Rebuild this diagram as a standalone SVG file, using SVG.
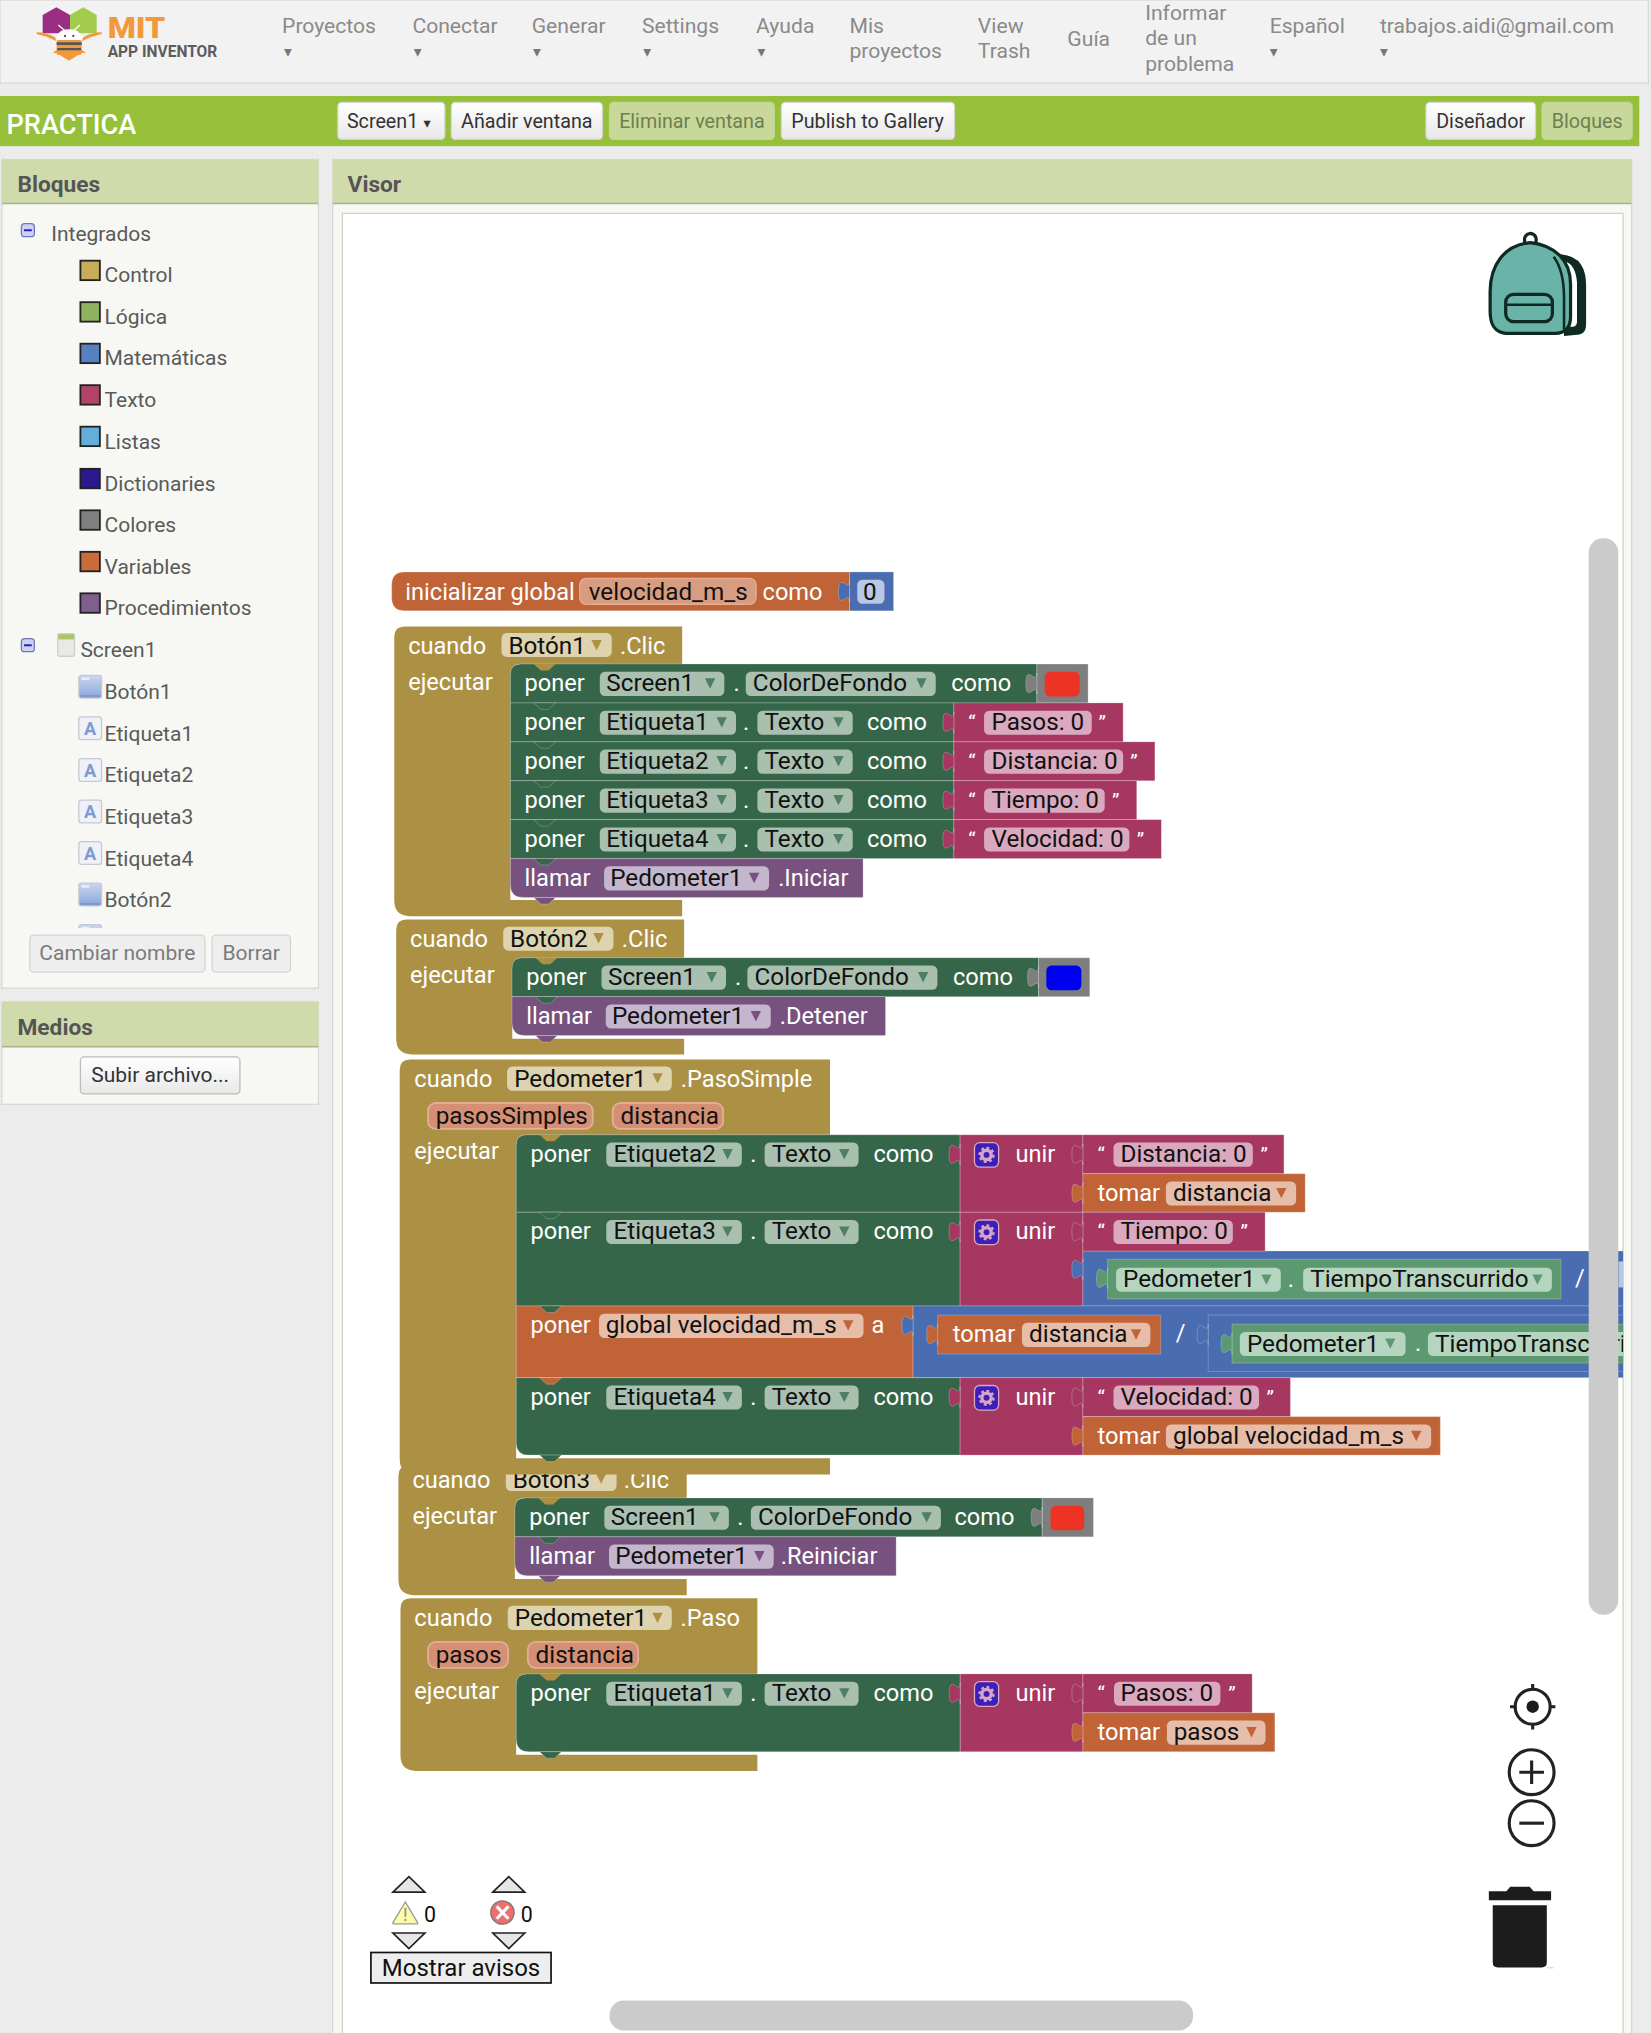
<svg xmlns="http://www.w3.org/2000/svg" width="1651" height="2033" viewBox="0 0 1651 2033">
<defs>
<style>
text{font-family:Roboto,"Liberation Sans",sans-serif}
.m text,text.m{font-size:16.3px;fill:#8a8a8a}
.ar{font-family:"DejaVu Sans",sans-serif!important;font-size:12px!important;fill:#777!important}
.btn{fill:#f5f5f5;stroke:#d4d4d4;stroke-width:1}
.bt{font-size:15.2px;fill:#333;text-anchor:middle}
.off{fill:#c8d89b;stroke:#c4d496}
.oft{font-size:15.2px;fill:#6f7f4e;text-anchor:middle}
.hd{fill:#cfdbab}
.body{fill:#f7f8f3}
.ht{font-size:17.5px;font-weight:700;fill:#555}
.it{font-size:16.2px;fill:#5a5a5a;transform:translate(-.4px,.6px)}
.sw{stroke:#222;stroke-width:1.4}
.b text{font-size:18.2px;fill:#fff}
.b text.k{font-size:18.7px;fill:#111}
.b text.q{font-size:16px}
.gr{fill:#36664a}.pk{fill:#a63760}.or{fill:#c06438}.pu{fill:#77527f}.bl{fill:#4a6cb0}.gy{fill:#7e7e7e}.ct{fill:#ac9145}.lg{fill:#5c9970}
.gr,.pk,.or,.pu,.bl,.gy,.lg{stroke:rgba(255,255,255,.25);stroke-width:.7}
.fg{fill:#a9c0b1}.fc{fill:#ddd3af}.fp{fill:#c3b6cd}.fo{fill:#e5bda9}.fl{fill:#b6d5c0}.ft{fill:#dba9bf}.fb{fill:#b9c8e4}
.pm{fill:#d58f74;stroke:#e5ad94;stroke-width:1.4}
.ag{fill:#4f7f62}.ac{fill:#ac9145}.ap{fill:#77527f}.ao{fill:#c06438}.al{fill:#5c9970}
.ic{fill:none;stroke:#222;stroke-width:2.4}
.tr{fill:#e6e6e6;stroke:#222;stroke-width:1.3}
</style>
<pattern id="tex" width="4" height="4" patternUnits="userSpaceOnUse"><rect width="4" height="4" fill="#ededed"/><rect width="1" height="1" fill="#e0e0e0"/><rect x="2" y="2" width="1" height="1" fill="#e3e3e3"/></pattern>
<linearGradient id="wb" x1="0" y1="0" x2="0" y2="1"><stop offset="0" stop-color="#ffffff"/><stop offset="1" stop-color="#e8e8e8"/></linearGradient>
<linearGradient id="bi" x1="0" y1="0" x2="0" y2="1"><stop offset="0" stop-color="#c9d6ef"/><stop offset=".85" stop-color="#93aedd"/><stop offset=".86" stop-color="#7f99cc"/><stop offset="1" stop-color="#7f99cc"/></linearGradient>
<path id="t" d="M0,0h8l-4,8z"/>
<path id="v" d="M0,0l5.500,5h6l5.500,-5z"/>
<path id="tab" d="M0,0c0,10 -8.500,-8 -8.500,8s8.500,-2 8.500,8z"/>
<g id="gear"><rect x="0" y="0" width="18.600" height="19" rx="4" fill="#3c1fb8" stroke="#dba9bf" stroke-width="1"/><circle cx="9.300" cy="9.500" r="3.600" fill="none" stroke="#d6a6c4" stroke-width="2.600"/><circle cx="9.300" cy="9.500" r="5.400" fill="none" stroke="#d6a6c4" stroke-width="1.800" stroke-dasharray="2.200 2"/></g>
<g id="bicon"><rect width="17.500" height="17.500" rx="2" fill="url(#bi)" stroke="#c4c9d4"/><rect x="2" y="1.500" width="6" height="2" fill="#e8eefa"/></g>
<g id="aicon"><rect width="17.500" height="17.500" rx="2" fill="#eef1f8" stroke="#c4c9d4"/><text x="8.700" y="14" font-size="14" font-weight="700" fill="#7f9ad0" text-anchor="middle">A</text></g>
<clipPath id="cv"><rect x="0" y="0" width="1251.500" height="1568"/></clipPath>
<clipPath id="ct"><rect x="0" y="158" width="246" height="557.500"/></clipPath>
</defs>
<rect width="1651" height="2033" fill="url(#tex)"/>
<g transform="scale(1.2969)">

<g id="topbar">
<rect x="0" y="0" width="1271" height="64" fill="#f2f2f2" stroke="#d8d8d8"/>
<g id="logo">
<g transform="translate(23.130,0) scale(.25703)">
<path d="M79,22L120,45V100H38V45z" fill="#9b2d83"/>
<path d="M160,22L200,45V100H120V45z" fill="#a3cc4f"/>
<path d="M85,75L105,92M150,75L130,92" stroke="#fff" stroke-width="4" fill="none"/>
<path d="M68,158l15,-10h70l15,10l-15,2l-36,22l-36,-22z" fill="#f29a3b"/>
<path d="M20,97q30,0 55,15l5,12q-30,-16 -60,-22zM215,97q-30,0 -55,15l-5,12q30,-16 60,-22z" fill="#f29a3b"/>
<path d="M80,120q0,-32 37,-32q38,0 38,32z" fill="#fff"/>
<circle cx="105" cy="108" r="3.500" fill="#555"/><circle cx="130" cy="108" r="3.500" fill="#555"/>
<rect x="80" y="120" width="75" height="45" rx="6" fill="#f29a3b"/>
<path d="M80,127h75v8h-75zM82,144h71v7h-71z" fill="#555"/>
</g>
<text x="83" y="29" font-size="23" font-weight="900" fill="#f29a3b" textLength="44.500" lengthAdjust="spacingAndGlyphs">MIT</text>
<text x="83" y="44.200" font-size="12.500" font-weight="700" fill="#5c5c5c" textLength="84.500" lengthAdjust="spacingAndGlyphs">APP INVENTOR</text>
</g>
<g class="m">
<text x="217.500" y="25.700">Proyectos</text><text class="ar" x="219" y="44">▾</text>
<text x="318" y="25.700">Conectar</text><text class="ar" x="319" y="44">▾</text>
<text x="410" y="25.700">Generar</text><text class="ar" x="411" y="44">▾</text>
<text x="495" y="25.700">Settings</text><text class="ar" x="496" y="44">▾</text>
<text x="583" y="25.700">Ayuda</text><text class="ar" x="584" y="44">▾</text>
<text x="655" y="25.700">Mis</text><text x="655" y="45">proyectos</text>
<text x="754" y="25.700">View</text><text x="754" y="45">Trash</text>
<text x="823" y="35.500">Guía</text>
<text x="883" y="15.400">Informar</text><text x="883" y="35">de un</text><text x="883" y="54.500">problema</text>
<text x="979" y="25.700">Español</text><text class="ar" x="979" y="44">▾</text>
<text x="1064" y="25.700">trabajos.aidi@gmail.com</text><text class="ar" x="1064" y="44">▾</text>
</g>
</g>

<g id="toolbar">
<rect x="0" y="74" width="1264" height="38.700" fill="#97c03a"/>
<text x="5" y="103" font-size="21" font-weight="500" fill="#fff">PRACTICA</text>
<rect class="btn" x="260.500" y="79" width="82.500" height="28.500" rx="3" style="fill:url(#wb)"/><text class="bt" x="295" y="99">Screen1</text><text class="ar" x="326.500" y="98.500" style="fill:#333!important;font-size:11px!important">▾</text>
<rect class="btn" x="348" y="79" width="116.500" height="28.500" rx="3" style="fill:url(#wb)"/><text class="bt" x="406.200" y="99">Añadir ventana</text>
<rect class="off" x="470" y="79" width="127" height="28.500" rx="3"/><text class="oft" x="533.500" y="99">Eliminar ventana</text>
<rect class="btn" x="602.500" y="79" width="133.500" height="28.500" rx="3" style="fill:url(#wb)"/><text class="bt" x="669" y="99">Publish to Gallery</text>
<rect class="btn" x="1099.500" y="79" width="84.500" height="28.500" rx="3" style="fill:url(#wb)"/><text class="bt" x="1141.700" y="99">Diseñador</text>
<rect class="off" x="1189" y="79" width="69.500" height="28.500" rx="3"/><text class="oft" x="1223.800" y="99">Bloques</text>
</g>

<g id="panel-bloques">
<rect class="body" x="1.500" y="123" width="244" height="639" stroke="#d8d8d8"/>
<rect class="hd" x="1.500" y="123" width="244" height="34"/><rect x="1.500" y="156.300" width="244" height="1.200" fill="#aab28e"/>
<text class="ht" x="13.500" y="148.200">Bloques</text>
<rect x="16.500" y="172.500" width="10" height="10" rx="2.500" fill="#cdd2f2" stroke="#7076bb"/><rect x="18.500" y="176.800" width="6" height="1.500" fill="#2222bb"/>
<text class="it" x="39.900" y="185">Integrados</text>
<rect class="sw" x="62" y="201" width="15" height="15" fill="#c7ad5a"/><text class="it" x="81" y="217">Control</text>
<rect class="sw" x="62" y="233" width="15" height="15" fill="#8fb35c"/><text class="it" x="81" y="249">Lógica</text>
<rect class="sw" x="62" y="265" width="15" height="15" fill="#5680bf"/><text class="it" x="81" y="281">Matemáticas</text>
<rect class="sw" x="62" y="297" width="15" height="15" fill="#b34468"/><text class="it" x="81" y="313.500">Texto</text>
<rect class="sw" x="62" y="329" width="15" height="15" fill="#63afd9"/><text class="it" x="81" y="345.500">Listas</text>
<rect class="sw" x="62" y="361.500" width="15" height="15" fill="#2a1a8e"/><text class="it" x="81" y="378">Dictionaries</text>
<rect class="sw" x="62" y="393.500" width="15" height="15" fill="#808080"/><text class="it" x="81" y="410">Colores</text>
<rect class="sw" x="62" y="425.500" width="15" height="15" fill="#cb6b3a"/><text class="it" x="81" y="442">Variables</text>
<rect class="sw" x="62" y="457.500" width="15" height="15" fill="#7e5f8f"/><text class="it" x="81" y="474">Procedimientos</text>
<rect x="16.500" y="492.500" width="10" height="10" rx="2.500" fill="#cdd2f2" stroke="#7076bb"/><rect x="18.500" y="496.800" width="6" height="1.500" fill="#2222bb"/>
<rect x="44.500" y="488.500" width="13" height="17.500" rx="1.500" fill="#e8e8e4" stroke="#cfcfcf"/><rect x="45" y="489" width="12" height="4" fill="#a9c46a"/>
<text class="it" x="62.400" y="506">Screen1</text>
<g clip-path="url(#ct)">
<use href="#bicon" x="60.800" y="520.800"/><text class="it" x="81" y="538.500">Botón1</text>
<use href="#aicon" x="60.800" y="552.800"/><text class="it" x="81" y="570.500">Etiqueta1</text>
<use href="#aicon" x="60.800" y="585"/><text class="it" x="81" y="602.500">Etiqueta2</text>
<use href="#aicon" x="60.800" y="617"/><text class="it" x="81" y="634.500">Etiqueta3</text>
<use href="#aicon" x="60.800" y="649"/><text class="it" x="81" y="667">Etiqueta4</text>
<use href="#bicon" x="60.800" y="681"/><text class="it" x="81" y="699">Botón2</text>
<use href="#bicon" x="60.800" y="713"/>
</g>
<rect class="btn" x="23" y="721" width="135" height="28.500" rx="3" style="fill:#eeeeee"/><text class="bt" x="90.500" y="740.500" style="fill:#7a7a7a;font-size:16.200px">Cambiar nombre</text>
<rect class="btn" x="163.500" y="721" width="60.500" height="28.500" rx="3" style="fill:#eeeeee"/><text class="bt" x="193.700" y="740.500" style="fill:#7a7a7a;font-size:16.200px">Borrar</text>
</g>

<g id="panel-medios">
<rect class="body" x="1.500" y="772.500" width="244" height="79" stroke="#d8d8d8"/>
<rect class="hd" x="1.500" y="772.500" width="244" height="34.500"/><rect x="1.500" y="806.500" width="244" height="1.200" fill="#aab28e"/>
<text class="ht" x="13.500" y="798">Medios</text>
<rect class="btn" x="62" y="815" width="123" height="28.500" rx="3" style="fill:url(#wb);stroke:#bbb"/><text class="bt" x="123.500" y="834.500" style="font-size:16.200px">Subir archivo...</text>
</g>

<g id="visor">
<rect class="body" x="256.500" y="123" width="1001.500" height="1446" stroke="#d8d8d8"/>
<rect class="hd" x="256.500" y="123" width="1001.500" height="34"/><rect x="256.500" y="156.300" width="1001.500" height="1.200" fill="#aab28e"/>
<text class="ht" x="268" y="148.200">Visor</text>
<rect x="264" y="164.500" width="987.500" height="1410" fill="#fff" stroke="#cfd3c8"/>
</g>

<g id="mochila">
<path d="M1203,196q12,1 16,8q4,6 4,16v30q0,7 -5,8l-12,1z" fill="#0e2a22"/>
<path d="M1208,202q7,3 8,16v30q0,3 -3,4l-4,0z" fill="#fff"/>
<path d="M1176,188q-2,-7 4,-8q6,1 4,8" fill="none" stroke="#0e2a22" stroke-width="2.500"/>
<path d="M1180,187c-20,2 -31,17 -31,38v15c0,10 3,16 12,17h38c8,0 12,-4 12,-13v-25c0,-18 -12,-30 -31,-32z" fill="#6ab3a8" stroke="#0e2a22" stroke-width="2.500"/>
<path d="M1198,198c6,8 8,20 8,32v24" fill="none" stroke="#0e2a22" stroke-width="2"/>
<rect x="1161" y="227" width="36" height="21" rx="6" fill="none" stroke="#0e2a22" stroke-width="2.500"/>
<path d="M1161,235h36" fill="none" stroke="#0e2a22" stroke-width="2"/>
</g>

<g id="bloques" class="b" clip-path="url(#cv)">

<g id="init-global">
<path class="or" d="M312,441H655V471H312q-10,0 -10,-10v-10q0,-10 10,-10z"/>
<rect class="bl" x="655" y="441" width="34" height="30"/>
<use href="#tab" x="655" y="448" class="bl"/>
<text x="312.500" y="462.500">inicializar global</text>
<rect class="fo" x="447" y="446" width="136" height="20" rx="5" style="fill:#d89d80;stroke:#e5ad94"/>
<text class="k" x="454" y="462.500">velocidad_m_s</text>
<text x="588" y="462.500">como</text>
<rect class="fb" x="661" y="447" width="21" height="18.500" rx="4"/>
<text class="k" x="665.500" y="462.500">0</text>
</g>

<g id="cuando-boton1">
<path class="ct" d="M304,491q0,-8 8,-8H526V512H401q-7.500,0 -7.500,8V694H526V706.400H316q-12,0 -12,-12z"/>
<text x="314.700" y="504">cuando</text>
<rect class="fc" x="386.700" y="488" width="85" height="18.500" rx="4"/><text class="k" x="392" y="504">Botón1</text><use href="#t" x="456" y="493.500" class="ac"/>
<text x="478" y="504">.Clic</text>
<text x="314.700" y="532">ejecutar</text>
<g transform="translate(393.500,512)">
<path class="gr" d="M8,0H406V30H0V8q0,-8 8,-8z"/><use href="#v" x="18" class="ct"/>
<rect class="gy" x="406" width="39.500" height="30"/><use href="#tab" x="406" y="7" class="gy"/>
<text x="11" y="21">poner</text><rect class="fg" x="69" y="6" width="96" height="18.600" rx="4"/><text class="k" x="74" y="21">Screen1</text><use href="#t" x="150" y="11" class="ag"/>
<text x="172" y="21">.</text><rect class="fg" x="181.500" y="6" width="146.500" height="18.600" rx="4"/><text class="k" x="187" y="21">ColorDeFondo</text><use href="#t" x="313" y="11" class="ag"/>
<text x="340" y="21">como</text><rect x="412" y="6" width="27" height="19" rx="4" fill="#ed3323"/>
</g>
<g transform="translate(393.500,542)">
<rect class="gr" width="342" height="30"/><use href="#v" x="18" class="gr"/>
<rect class="pk" x="342" width="130.500" height="30"/><use href="#tab" x="342" y="7" class="pk"/>
<text x="11" y="21">poner</text><rect class="fg" x="69" y="6" width="105" height="18.600" rx="4"/><text class="k" x="74" y="21">Etiqueta1</text><use href="#t" x="159" y="11" class="ag"/>
<text x="179.500" y="21">.</text><rect class="fg" x="190.500" y="6" width="73.500" height="18.600" rx="4"/><text class="k" x="196" y="21">Texto</text><use href="#t" x="249" y="11" class="ag"/>
<text x="275" y="21">como</text>
<text class="q" x="353" y="21">“</text><rect class="ft" x="365.300" y="6" width="83" height="18.600" rx="4"/><text class="k" x="371" y="21">Pasos: 0</text><text class="q" x="453.500" y="21">”</text>
</g>
<g transform="translate(393.500,572)">
<rect class="gr" width="342" height="30"/><use href="#v" x="18" class="gr"/>
<rect class="pk" x="342" width="155" height="30"/><use href="#tab" x="342" y="7" class="pk"/>
<text x="11" y="21">poner</text><rect class="fg" x="69" y="6" width="105" height="18.600" rx="4"/><text class="k" x="74" y="21">Etiqueta2</text><use href="#t" x="159" y="11" class="ag"/>
<text x="179.500" y="21">.</text><rect class="fg" x="190.500" y="6" width="73.500" height="18.600" rx="4"/><text class="k" x="196" y="21">Texto</text><use href="#t" x="249" y="11" class="ag"/>
<text x="275" y="21">como</text>
<text class="q" x="353" y="21">“</text><rect class="ft" x="365.300" y="6" width="107.200" height="18.600" rx="4"/><text class="k" x="371" y="21">Distancia: 0</text><text class="q" x="478" y="21">”</text>
</g>
<g transform="translate(393.500,602)">
<rect class="gr" width="342" height="30"/><use href="#v" x="18" class="gr"/>
<rect class="pk" x="342" width="141" height="30"/><use href="#tab" x="342" y="7" class="pk"/>
<text x="11" y="21">poner</text><rect class="fg" x="69" y="6" width="105" height="18.600" rx="4"/><text class="k" x="74" y="21">Etiqueta3</text><use href="#t" x="159" y="11" class="ag"/>
<text x="179.500" y="21">.</text><rect class="fg" x="190.500" y="6" width="73.500" height="18.600" rx="4"/><text class="k" x="196" y="21">Texto</text><use href="#t" x="249" y="11" class="ag"/>
<text x="275" y="21">como</text>
<text class="q" x="353" y="21">“</text><rect class="ft" x="365.300" y="6" width="93" height="18.600" rx="4"/><text class="k" x="371" y="21">Tiempo: 0</text><text class="q" x="464" y="21">”</text>
</g>
<g transform="translate(393.500,632)">
<rect class="gr" width="342" height="30"/><use href="#v" x="18" class="gr"/>
<rect class="pk" x="342" width="160" height="30"/><use href="#tab" x="342" y="7" class="pk"/>
<text x="11" y="21">poner</text><rect class="fg" x="69" y="6" width="105" height="18.600" rx="4"/><text class="k" x="74" y="21">Etiqueta4</text><use href="#t" x="159" y="11" class="ag"/>
<text x="179.500" y="21">.</text><rect class="fg" x="190.500" y="6" width="73.500" height="18.600" rx="4"/><text class="k" x="196" y="21">Texto</text><use href="#t" x="249" y="11" class="ag"/>
<text x="275" y="21">como</text>
<text class="q" x="353" y="21">“</text><rect class="ft" x="365.300" y="6" width="112" height="18.600" rx="4"/><text class="k" x="371" y="21">Velocidad: 0</text><text class="q" x="483" y="21">”</text>
</g>
<g transform="translate(393.500,662)">
<path class="pu" d="M0,0H272V30H10q-10,0 -10,-10z"/><use href="#v" x="18" class="gr"/><use href="#v" x="18" y="30" class="pu"/>
<text x="11" y="21">llamar</text><rect class="fp" x="72.300" y="6" width="127.200" height="18.600" rx="4"/><text class="k" x="77" y="21">Pedometer1</text><use href="#t" x="184" y="11" class="ap"/><text x="206.500" y="21">.Iniciar</text>
</g>
</g>

<g id="cuando-boton2">
<path class="ct" d="M305.500,717q0,-8 8,-8H527.500V738.500H402.500q-7.500,0 -7.500,8V801H527.500V813H317.500q-12,0 -12,-12z"/>
<text x="316.200" y="730">cuando</text>
<rect class="fc" x="388" y="714.500" width="85" height="18.500" rx="4"/><text class="k" x="393.300" y="730">Botón2</text><use href="#t" x="457.500" y="719.500" class="ac"/>
<text x="479.500" y="730">.Clic</text>
<text x="316.200" y="758">ejecutar</text>
<g transform="translate(394.800,738.500)">
<path class="gr" d="M8,0H406V30H0V8q0,-8 8,-8z"/><use href="#v" x="18" class="ct"/>
<rect class="gy" x="406" width="39.500" height="30"/><use href="#tab" x="406" y="7" class="gy"/>
<text x="11" y="21">poner</text><rect class="fg" x="69" y="6" width="96" height="18.600" rx="4"/><text class="k" x="74" y="21">Screen1</text><use href="#t" x="150" y="11" class="ag"/>
<text x="172" y="21">.</text><rect class="fg" x="181.500" y="6" width="146.500" height="18.600" rx="4"/><text class="k" x="187" y="21">ColorDeFondo</text><use href="#t" x="313" y="11" class="ag"/>
<text x="340" y="21">como</text><rect x="412" y="6" width="27" height="19" rx="4" fill="#0000f0"/>
</g>
<g transform="translate(394.800,768.500)">
<path class="pu" d="M0,0H288V30H10q-10,0 -10,-10z"/><use href="#v" x="18" class="gr"/><use href="#v" x="18" y="30" class="pu"/>
<text x="11" y="21">llamar</text><rect class="fp" x="72.300" y="6" width="127.200" height="18.600" rx="4"/><text class="k" x="77" y="21">Pedometer1</text><use href="#t" x="184" y="11" class="ap"/><text x="206.500" y="21">.Detener</text>
</g>
</g>

<g id="cuando-boton3">
<path class="ct" d="M307.200,1138q0,-8 8,-8H529.500V1155H404.500q-7.500,0 -7.500,8V1217.600H529.500V1230H319.200q-12,0 -12,-12z"/>
<text x="318" y="1147">cuando</text>
<rect class="fc" x="390" y="1131" width="85.400" height="18.600" rx="4"/><text class="k" x="395.300" y="1147">Botón3</text><use href="#t" x="459.500" y="1136" class="ac"/>
<text x="481" y="1147">.Clic</text>
<text x="318" y="1175">ejecutar</text>
<g transform="translate(397,1155)">
<path class="gr" d="M8,0H406.600V30H0V8q0,-8 8,-8z"/><use href="#v" x="18" class="ct"/>
<rect class="gy" x="406.600" width="39.500" height="30"/><use href="#tab" x="406.600" y="7" class="gy"/>
<text x="11" y="21">poner</text><rect class="fg" x="69" y="6" width="96" height="18.600" rx="4"/><text class="k" x="74" y="21">Screen1</text><use href="#t" x="150" y="11" class="ag"/>
<text x="171.500" y="21">.</text><rect class="fg" x="182" y="6" width="146.500" height="18.600" rx="4"/><text class="k" x="187.500" y="21">ColorDeFondo</text><use href="#t" x="313.500" y="11" class="ag"/>
<text x="339" y="21">como</text><rect x="413" y="6" width="26" height="19" rx="4" fill="#ed3323"/>
</g>
<g transform="translate(397,1185)">
<path class="pu" d="M0,0H294V30H10q-10,0 -10,-10z"/><use href="#v" x="18" class="gr"/><use href="#v" x="18" y="30" class="pu"/>
<text x="11" y="21">llamar</text><rect class="fp" x="72.600" y="6" width="127" height="18.600" rx="4"/><text class="k" x="77.500" y="21">Pedometer1</text><use href="#t" x="184.500" y="11" class="ap"/><text x="205" y="21">.Reiniciar</text>
</g>
</g>

<g id="cuando-pasosimple">
<path class="ct" d="M308.200,825q0,-8 8,-8H640V875H405.500q-7.500,0 -7.500,8V1124.400H640V1137H320.200q-12,0 -12,-12z"/>
<text x="319.500" y="838">cuando</text>
<rect class="fc" x="391" y="822.400" width="127" height="18.600" rx="4"/><text class="k" x="396.500" y="838">Pedometer1</text><use href="#t" x="503" y="827.500" class="ac"/>
<text x="525" y="838">.PasoSimple</text>
<rect class="pm" x="330" y="850.500" width="127" height="20" rx="6"/><text class="k" x="336" y="867">pasosSimples</text>
<rect class="pm" x="472.400" y="850.500" width="85.200" height="20" rx="6"/><text class="k" x="478.500" y="867">distancia</text>
<text x="319.500" y="894">ejecutar</text>
<g transform="translate(398,875)">
<path class="gr" d="M8,0H342.300V59.700H0V8q0,-8 8,-8z"/><use href="#v" x="18" class="ct"/>
<rect class="pk" x="342.300" width="94.700" height="59.700"/><use href="#tab" x="342.300" y="7" class="pk"/>
<rect class="pk" x="437" width="155" height="30"/><use href="#tab" x="437" y="7" class="pk"/>
<rect class="or" x="437" y="30" width="171.400" height="29.700"/><use href="#tab" x="437" y="37" class="or"/>
<text x="11" y="21">poner</text><rect class="fg" x="69.500" y="6" width="104.500" height="18.600" rx="4"/><text class="k" x="75" y="21">Etiqueta2</text><use href="#t" x="159" y="11" class="ag"/>
<text x="180.500" y="21">.</text><rect class="fg" x="191.600" y="6" width="72.400" height="18.600" rx="4"/><text class="k" x="197" y="21">Texto</text><use href="#t" x="249" y="11" class="ag"/>
<text x="275.500" y="21">como</text>
<use href="#gear" x="353.400" y="6"/><text x="385" y="21">unir</text>
<text class="q" x="448.300" y="21">“</text><rect class="ft" x="460.600" y="6" width="107.400" height="18.600" rx="4"/><text class="k" x="466" y="21">Distancia: 0</text><text class="q" x="574" y="21">”</text>
<text x="448.300" y="51">tomar</text><rect class="fo" x="501" y="36" width="100.400" height="18.600" rx="4"/><text class="k" x="506.500" y="51">distancia</text><use href="#t" x="586" y="41" class="ao"/>
</g>
<g transform="translate(398,934.700)">
<rect class="gr" width="342.300" height="72.300"/><use href="#v" x="18" class="gr"/>
<rect class="pk" x="342.300" width="94.700" height="72.300"/><use href="#tab" x="342.300" y="7" class="pk"/>
<rect class="bl" x="437" y="29.900" width="420" height="42.400"/><use href="#tab" x="437" y="36" class="bl"/>
<rect class="pk" x="437" width="140.500" height="29.900"/><use href="#tab" x="437" y="7" class="pk"/>
<text x="11" y="21">poner</text><rect class="fg" x="69.500" y="6" width="104.500" height="18.600" rx="4"/><text class="k" x="75" y="21">Etiqueta3</text><use href="#t" x="159" y="11" class="ag"/>
<text x="180.500" y="21">.</text><rect class="fg" x="191.600" y="6" width="72.400" height="18.600" rx="4"/><text class="k" x="197" y="21">Texto</text><use href="#t" x="249" y="11" class="ag"/>
<text x="275.500" y="21">como</text>
<use href="#gear" x="353.400" y="6"/><text x="385" y="21">unir</text>
<text class="q" x="448.300" y="21">“</text><rect class="ft" x="460.600" y="6" width="92" height="18.600" rx="4"/><text class="k" x="466" y="21">Tiempo: 0</text><text class="q" x="558.500" y="21">”</text>
<rect class="lg" x="456" y="36.300" width="349.600" height="30.600"/><use href="#tab" x="456" y="43" class="lg"/>
<rect class="fl" x="462.600" y="42.800" width="127" height="18.600" rx="4"/><text class="k" x="468" y="58">Pedometer1</text><use href="#t" x="574.500" y="48" class="al"/>
<text x="595" y="58">.</text><rect class="fl" x="606.800" y="42.800" width="191.800" height="18.600" rx="4"/><text class="k" x="612.300" y="58">TiempoTranscurrido</text><use href="#t" x="783.500" y="48" class="al"/>
<text x="816.500" y="57">/</text>
<rect class="fb" x="850" y="38" width="7" height="20"/>
</g>
<g transform="translate(398,1007)">
<rect class="or" width="306" height="55.300"/><use href="#v" x="18" class="gr"/>
<rect class="bl" x="306" width="551" height="55.300"/><use href="#tab" x="306" y="7" class="bl"/>
<text x="11" y="21">poner</text><rect class="fo" x="63.900" y="6" width="203.900" height="18.600" rx="4"/><text class="k" x="69" y="21">global velocidad_m_s</text><use href="#t" x="252" y="11" class="ao"/>
<text x="274" y="21">a</text>
<rect class="or" x="325" y="7" width="172" height="30"/><use href="#tab" x="325" y="14" class="or"/>
<text x="336.600" y="28">tomar</text><rect class="fo" x="390" y="13" width="99" height="18.600" rx="4"/><text class="k" x="395.500" y="28">distancia</text><use href="#t" x="474" y="18" class="ao"/>
<text x="508.500" y="27">/</text>
<rect class="bl" x="533.600" y="7" width="330" height="43.600"/><use href="#tab" x="533.600" y="14" class="bl"/>
<rect class="lg" x="552" y="14" width="310" height="30"/><use href="#tab" x="552" y="21" class="lg"/>
<rect class="fl" x="558" y="20" width="127.800" height="18.600" rx="4"/><text class="k" x="563.500" y="35.500">Pedometer1</text><use href="#t" x="670" y="25" class="al"/>
<text x="693" y="35">.</text><rect class="fl" x="703" y="20" width="192" height="18.600" rx="4"/><text class="k" x="708.500" y="35.500">TiempoTranscurrido</text>
</g>
<g transform="translate(398,1062.300)">
<path class="gr" d="M0,0H342.300V59.700H10q-10,0 -10,-10z"/><use href="#v" x="18" class="or"/><use href="#v" x="18" y="59.700" class="gr"/>
<rect class="pk" x="342.300" width="94.700" height="59.700"/><use href="#tab" x="342.300" y="7" class="pk"/>
<rect class="pk" x="437" width="160" height="30"/><use href="#tab" x="437" y="7" class="pk"/>
<rect class="or" x="437" y="30" width="275.600" height="29.700"/><use href="#tab" x="437" y="37" class="or"/>
<text x="11" y="21">poner</text><rect class="fg" x="69.500" y="6" width="104.500" height="18.600" rx="4"/><text class="k" x="75" y="21">Etiqueta4</text><use href="#t" x="159" y="11" class="ag"/>
<text x="180.500" y="21">.</text><rect class="fg" x="191.600" y="6" width="72.400" height="18.600" rx="4"/><text class="k" x="197" y="21">Texto</text><use href="#t" x="249" y="11" class="ag"/>
<text x="275.500" y="21">como</text>
<use href="#gear" x="353.400" y="6"/><text x="385" y="21">unir</text>
<text class="q" x="448.300" y="21">“</text><rect class="ft" x="460.600" y="6" width="112.200" height="18.600" rx="4"/><text class="k" x="466" y="21">Velocidad: 0</text><text class="q" x="578.500" y="21">”</text>
<text x="448.300" y="51">tomar</text><rect class="fo" x="501" y="36" width="204.500" height="18.600" rx="4"/><text class="k" x="506.500" y="51">global velocidad_m_s</text><use href="#t" x="690" y="41" class="ao"/>
</g>
</g>

<g id="cuando-paso">
<path class="ct" d="M308.800,1240.400q0,-8 8,-8H584V1290.700H405.500q-7.500,0 -7.500,8V1353H584V1365.500H320.800q-12,0 -12,-12z"/>
<text x="319.500" y="1254">cuando</text>
<rect class="fc" x="391.500" y="1238.200" width="126.500" height="18.600" rx="4"/><text class="k" x="397" y="1254">Pedometer1</text><use href="#t" x="503" y="1243.500" class="ac"/>
<text x="524.800" y="1254">.Paso</text>
<rect class="pm" x="330" y="1266" width="61.800" height="20" rx="6"/><text class="k" x="336" y="1282.500">pasos</text>
<rect class="pm" x="407" y="1266" width="85" height="20" rx="6"/><text class="k" x="413" y="1282.500">distancia</text>
<text x="319.500" y="1310">ejecutar</text>
<g transform="translate(398,1290.700)">
<path class="gr" d="M8,0H342.400V60H10q-10,0 -10,-10V8q0,-8 8,-8z"/><use href="#v" x="18" class="ct"/><use href="#v" x="18" y="60" class="gr"/>
<rect class="pk" x="342.400" width="94.600" height="60"/><use href="#tab" x="342.400" y="7" class="pk"/>
<rect class="pk" x="437" width="130.500" height="30"/><use href="#tab" x="437" y="7" class="pk"/>
<rect class="or" x="437" y="30" width="148" height="30"/><use href="#tab" x="437" y="37" class="or"/>
<text x="11" y="21">poner</text><rect class="fg" x="69.500" y="6" width="104.500" height="18.600" rx="4"/><text class="k" x="75" y="21">Etiqueta1</text><use href="#t" x="159" y="11" class="ag"/>
<text x="180.500" y="21">.</text><rect class="fg" x="191.600" y="6" width="72.400" height="18.600" rx="4"/><text class="k" x="197" y="21">Texto</text><use href="#t" x="249" y="11" class="ag"/>
<text x="275.500" y="21">como</text>
<use href="#gear" x="353.400" y="6"/><text x="385" y="21">unir</text>
<text class="q" x="448.300" y="21">“</text><rect class="ft" x="461" y="6" width="82" height="18.600" rx="4"/><text class="k" x="466" y="21">Pasos: 0</text><text class="q" x="549" y="21">”</text>
<text x="448.300" y="51">tomar</text><rect class="fo" x="501.800" y="36" width="76" height="18.600" rx="4"/><text class="k" x="507" y="51">pasos</text><use href="#t" x="563" y="41" class="ao"/>
</g>
</g>
</g>

<g id="avisos">
<path class="tr" d="M303,1459l12.300,-12 12.300,12z"/><path class="tr" d="M380,1459l12.300,-12 12.300,12z"/>
<path d="M312.500,1466.500l9.500,16q.5,1 -1,1h-17q-1.500,0 -1,-1z" fill="#fdfda8" stroke="#999" stroke-width="1"/><rect x="311.800" y="1471" width="1.600" height="7" fill="#999"/><rect x="311.800" y="1479.500" width="1.600" height="1.800" fill="#999"/>
<text x="327" y="1482" font-size="16.500" fill="#111">0</text>
<circle cx="387.400" cy="1474.700" r="9" fill="#ee6f6f" stroke="#777" stroke-width="1"/><path d="M383,1470l9,9.500m0,-9.500l-9,9.500" stroke="#fff" stroke-width="2.400" fill="none"/>
<text x="401.600" y="1482" font-size="16.500" fill="#111">0</text>
<path class="tr" d="M303,1490.500h24.600l-12.300,12z"/><path class="tr" d="M380,1490.500h24.600l-12.300,12z"/>
<rect x="286" y="1505.500" width="138.900" height="23.500" fill="#eee" stroke="#111" stroke-width="1.300"/>
<text x="355.500" y="1524" font-size="18.500" fill="#111" text-anchor="middle">Mostrar avisos</text>
</g>

<g id="controles">
<g><circle class="ic" cx="1181.800" cy="1316" r="13.500"/><circle cx="1181.800" cy="1316" r="4.800" fill="#1c1c1c"/><path class="ic" d="M1181.800,1298.500v5M1181.800,1328.500v5M1164.300,1316h5M1194.300,1316h5"/></g>
<g><circle class="ic" cx="1181" cy="1366.500" r="17.300"/><path class="ic" d="M1181,1357.500v18M1171.500,1366.500h19"/></g>
<g><circle class="ic" cx="1181" cy="1405.800" r="17.300"/><path class="ic" d="M1171.500,1405.800h19"/></g>
<g><path d="M1148,1458.300h13.500l3,-3.500h15l3,3.500h13.500v7h-48zM1151,1469h41.700v44q0,4 -4,4h-33.700q-4,0 -4,-4z" fill="#1c1c1c"/><path d="M1193,1517.300h5" stroke="#ccc" stroke-width=".7"/></g>
</g>

<g id="barras">
<rect x="1225" y="415" width="22.800" height="830" rx="11" fill="#cbcbcb"/>
<rect x="470" y="1542.600" width="450" height="23" rx="11" fill="#cbcbcb"/>
</g>
</g>
</svg>
